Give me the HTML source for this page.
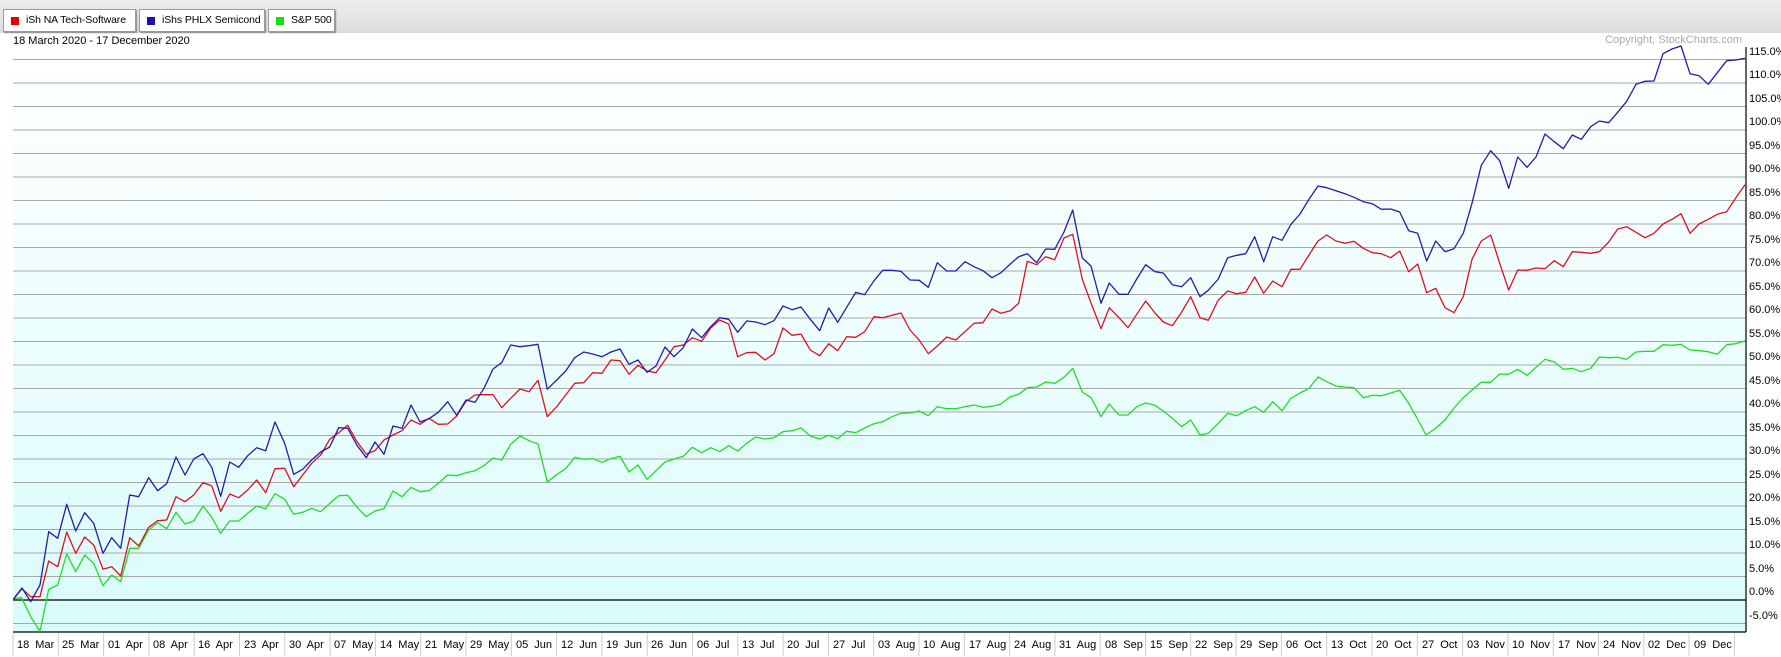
<!DOCTYPE html>
<html><head><meta charset="utf-8"><style>
html,body{margin:0;padding:0;background:#fff;}
body{width:1781px;height:657px;overflow:hidden;position:relative;font-family:"Liberation Sans",Arial,sans-serif;}
.bar{position:absolute;left:0;top:0;width:1781px;height:33px;background:linear-gradient(#eeeeee,#dcdcdc);}
.btn{position:absolute;top:9px;height:21px;background:#fff;border:1px solid #9a9a9a;box-shadow:1px 1px 1px #888;font-size:10.5px;line-height:21px;color:#000;overflow:hidden;}
.sq{position:absolute;left:7px;top:7px;width:8px;height:8px;}
.btn span.t{position:absolute;left:22px;white-space:nowrap;letter-spacing:-0.1px;}
</style></head><body>
<div class="bar"></div>
<div class="btn" style="left:3px;width:131px"><div class="sq" style="background:#e00000"></div><span class="t">iSh NA Tech-Software</span></div>
<div class="btn" style="left:139px;width:124px"><div class="sq" style="background:#1a0fb0"></div><span class="t">iShs PHLX Semicond</span></div>
<div class="btn" style="left:268px;width:65px"><div class="sq" style="background:#11e011"></div><span class="t">S&amp;P 500</span></div>
<svg id="s" width="1781" height="657" style="position:absolute;left:0;top:0" xmlns="http://www.w3.org/2000/svg">
<defs><linearGradient id="g" x1="0" y1="0" x2="0" y2="1"><stop offset="0" stop-color="#ffffff"/><stop offset="1" stop-color="#dafcfc"/></linearGradient></defs>
<rect x="13" y="47" width="1733" height="585" fill="url(#g)"/>
<g id="grid"></g>
<g font-size="11" fill="#000" font-family="Liberation Sans, Arial, sans-serif">
<text x="13" y="44">18 March 2020 - 17 December 2020</text>
<text x="1742" y="43" fill="#aaaaaa" text-anchor="end">Copyright, StockCharts.com</text>
<text x="1749" y="55">115.0%</text><text x="1749" y="78">110.0%</text><text x="1749" y="102">105.0%</text><text x="1749" y="125">100.0%</text>
<text x="1749" y="149">95.0%</text><text x="1749" y="172">90.0%</text><text x="1749" y="196">85.0%</text><text x="1749" y="219">80.0%</text>
<text x="1749" y="243">75.0%</text><text x="1749" y="266">70.0%</text><text x="1749" y="290">65.0%</text><text x="1749" y="313">60.0%</text>
<text x="1749" y="337">55.0%</text><text x="1749" y="360">50.0%</text><text x="1749" y="384">45.0%</text><text x="1749" y="407">40.0%</text>
<text x="1749" y="431">35.0%</text><text x="1749" y="454">30.0%</text><text x="1749" y="478">25.0%</text><text x="1749" y="501">20.0%</text>
<text x="1749" y="525">15.0%</text><text x="1749" y="548">10.0%</text><text x="1749" y="572">5.0%</text><text x="1749" y="595">0.0%</text>
<text x="1749" y="619">-5.0%</text>
<g id="xl" font-size="11" word-spacing="3">
<text x="17" y="648">18 Mar</text><text x="62" y="648">25 Mar</text><text x="108" y="648">01 Apr</text><text x="153" y="648">08 Apr</text>
<text x="198" y="648">16 Apr</text><text x="244" y="648">23 Apr</text><text x="289" y="648">30 Apr</text><text x="334" y="648">07 May</text>
<text x="380" y="648">14 May</text><text x="425" y="648">21 May</text><text x="470" y="648">29 May</text><text x="516" y="648">05 Jun</text>
<text x="561" y="648">12 Jun</text><text x="606" y="648">19 Jun</text><text x="651" y="648">26 Jun</text><text x="697" y="648">06 Jul</text>
<text x="742" y="648">13 Jul</text><text x="787" y="648">20 Jul</text><text x="833" y="648">27 Jul</text><text x="878" y="648">03 Aug</text>
<text x="923" y="648">10 Aug</text><text x="969" y="648">17 Aug</text><text x="1014" y="648">24 Aug</text><text x="1059" y="648">31 Aug</text>
<text x="1105" y="648">08 Sep</text><text x="1150" y="648">15 Sep</text><text x="1195" y="648">22 Sep</text><text x="1240" y="648">29 Sep</text>
<text x="1286" y="648">06 Oct</text><text x="1331" y="648">13 Oct</text><text x="1376" y="648">20 Oct</text><text x="1422" y="648">27 Oct</text>
<text x="1467" y="648">03 Nov</text><text x="1512" y="648">10 Nov</text><text x="1558" y="648">17 Nov</text><text x="1603" y="648">24 Nov</text>
<text x="1648" y="648">02 Dec</text><text x="1694" y="648">09 Dec</text>
</g></g>
<g id="lines" fill="none" stroke-width="1.3" stroke-linejoin="round"></g>
</svg>
<script>
var NS="http://www.w3.org/2000/svg",grid=document.getElementById('grid');
function el(t,a,p){var e=document.createElementNS(NS,t);for(var k in a)e.setAttribute(k,a[k]);p.appendChild(e);return e;}
for(var v=-5;v<=115;v+=5){var y=600-v*4.7;el('line',{x1:13,x2:1746,y1:y,y2:y,stroke:v==0?'#000':'#a8a8a8','stroke-width':v==0?1.2:1},grid);}
el('line',{x1:13,x2:1746,y1:632,y2:632,stroke:'#000','stroke-width':1.2},grid);
el('line',{x1:1746,x2:1746,y1:47,y2:632,stroke:'#000','stroke-width':1.2},grid);
for(var k=0;k<=38;k++){var x=13+45.3*k;el('line',{x1:x,x2:x,y1:633,y2:656,stroke:'#cccccc'},grid);}
function conv(o,a){var r=[];for(var i=0;i<a.length;i+=2)r.push([o[0]+a[i]/3,o[1]+a[i+1]/3]);return r;}
var Z5=[10,300],Z6=[440,180],Z7=[870,130],Z8=[1300,40];
var blue=[].concat(
conv(Z5,[10,898,36,864,62,905,90,855,116,695,143,715,170,613,197,693,224,638,251,670,279,760,305,713,332,745,359,585,386,590,416,533,443,572,470,551,498,471,525,525,551,477,579,461,605,502,632,589,659,486,686,502,713,467,740,443,767,452,795,366,824,430,851,523,878,508,905,480,932,456,959,441,986,383,1013,385,1041,436,1069,473,1095,426,1122,463,1149,378,1176,385,1203,315,1230,366,1257,356,1285,337,1313,305]),
conv(Z6,[50,706,78,660,105,667,132,625,159,567,185,548,212,495,240,500,267,497,294,493,322,628,350,600,377,573,404,533,431,516,458,522,486,530,513,516,540,507,567,553,594,540,621,577,648,558,675,501,702,530,730,503,757,447,785,473,812,440,839,413,866,418,893,457,920,423,947,426,975,434,1002,422,1029,378,1056,389,1083,381,1111,418,1139,452,1166,384,1193,427,1220,382,1247,337,1274,344,1302,302]),
conv(Z7,[38,421,66,421,93,424,120,450,148,451,175,472,202,398,230,423,257,423,285,395,312,410,339,422,366,443,393,428,421,402,446,380,472,371,500,398,527,357,554,358,582,306,608,240,637,384,663,408,693,520,718,459,747,493,774,493,800,447,827,404,855,425,880,429,907,464,935,470,962,443,990,500,1015,481,1045,447,1073,383,1100,376,1127,371,1154,320,1181,395,1208,320,1236,331,1263,283,1290,252]),
conv(Z8,[27,478,54,438,80,443,108,452,135,461,162,472,190,485,217,491,244,508,272,507,299,516,326,572,353,580,380,663,407,603,435,635,462,626,490,580,516,490,544,376,572,332,599,362,626,445,653,351,681,382,708,351,735,282,763,305,790,326,817,285,844,298,872,260,898,243,926,248,953,217,980,184,1008,133,1035,124,1062,123,1089,41,1116,27,1143,18,1170,101,1197,107,1225,133,1252,98,1280,62,1307,60,1335,55]));
var red=[].concat(
conv(Z5,[10,898,36,866,62,890,90,890,116,783,143,800,170,696,197,760,224,711,251,735,279,808,305,800,332,828,359,713,386,738,416,682,443,662,470,660,498,590,525,605,551,585,579,548,605,557,632,634,659,582,686,593,713,570,740,540,767,578,795,506,824,505,851,560,878,525,905,490,932,465,959,418,986,398,1013,376,1041,425,1069,462,1095,452,1122,420,1149,405,1176,392,1203,360,1230,373,1257,355,1285,373,1313,372]),
conv(Z6,[50,708,78,664,105,645,132,644,159,644,185,683,212,655,240,627,267,635,294,601,322,710,350,680,377,645,404,610,431,608,458,578,486,580,513,540,540,542,567,583,594,556,621,573,648,578,675,540,702,500,730,495,757,473,785,484,812,444,839,420,866,432,893,530,920,518,947,517,975,540,1002,521,1029,444,1056,466,1083,462,1111,510,1139,527,1166,491,1193,512,1220,470,1247,472,1274,455,1302,410]),
conv(Z7,[38,563,66,556,93,549,120,600,148,631,175,671,202,648,230,621,257,630,285,605,312,580,339,578,366,537,393,550,421,542,446,520,472,394,500,404,527,380,554,389,582,324,608,313,637,448,663,519,693,596,718,533,747,563,774,593,800,553,827,513,855,549,880,576,907,587,935,546,962,500,990,563,1015,571,1045,510,1073,483,1100,491,1127,487,1154,441,1181,490,1208,453,1236,470,1263,418,1290,418]),
conv(Z8,[27,645,54,603,80,585,108,603,135,610,162,604,190,625,217,638,244,641,272,653,299,633,326,695,353,672,380,758,407,745,435,803,462,818,490,770,516,658,544,603,572,585,599,670,626,750,653,690,681,691,708,684,735,686,763,662,790,680,817,635,844,637,872,640,898,635,926,606,953,567,980,560,1008,577,1035,593,1062,580,1089,552,1116,538,1143,521,1170,580,1197,552,1225,538,1252,523,1280,515,1307,474,1335,434]));
var green=[].concat(
[[13,599.3],[21.3,597.3],[30.7,616.7],[40,631.5]],
conv(Z5,[116,868,143,855,170,762,197,815,224,765,251,790,279,857,305,825,332,845,359,745,386,745,416,690,443,668,470,686,498,637,525,672,551,663,579,618,605,652,632,700,659,663,686,663,713,640,740,618,767,626,795,581,824,598,851,643,878,637,905,625,932,635,959,610,986,587,1013,586,1041,622,1069,650,1095,633,1122,626,1149,573,1176,590,1203,562,1230,575,1257,572,1285,550,1313,525]),
conv(Z6,[50,887,78,878,105,872,132,857,159,834,185,840,212,793,240,768,267,782,294,792,322,906,350,884,377,866,404,832,431,838,458,836,486,847,513,836,540,829,567,876,594,855,621,898,648,872,675,846,702,837,730,829,757,802,785,818,812,803,839,815,866,797,893,813,920,790,947,771,975,777,1002,773,1029,755,1056,752,1083,744,1111,768,1139,777,1166,766,1193,776,1220,754,1247,758,1274,744,1302,731]),
conv(Z7,[38,875,66,860,93,850,120,849,148,843,175,857,202,830,230,836,257,836,285,830,312,825,339,832,366,829,393,822,421,800,446,793,472,773,500,771,527,756,554,760,582,742,608,715,637,786,663,803,693,860,718,822,747,855,774,855,800,830,827,819,855,826,880,843,907,865,935,890,962,870,990,915,1015,910,1045,880,1073,850,1100,857,1127,842,1154,830,1181,847,1208,815,1236,842,1263,805,1290,789]),
conv(Z8,[27,1045,54,1011,80,1025,108,1038,135,1041,162,1043,190,1073,217,1066,244,1067,272,1059,299,1051,326,1090]),
[[1417,418],[1426,435],[1436,428],[1445,420],[1454,408],[1463,398],[1472,390]],
conv(Z8,[544,1027,572,1027,599,1002,626,1003,653,988,681,1006,708,982,735,958,763,966,790,988,817,985,844,995,872,985,898,951,926,953,953,952,980,958,1008,936,1035,934,1062,934,1089,914,1116,916,1143,913,1170,930,1197,932,1225,935,1252,943,1280,914,1307,911,1335,902]));
var L=document.getElementById('lines');
function pl(p,c){el('polyline',{points:p.map(function(q){return q[0].toFixed(1)+','+q[1].toFixed(1)}).join(' '),stroke:c},L);}
pl(green,'#22dd22');pl(red,'#e01020');pl(blue,'#2a1aa8');
</script>
</body></html>
